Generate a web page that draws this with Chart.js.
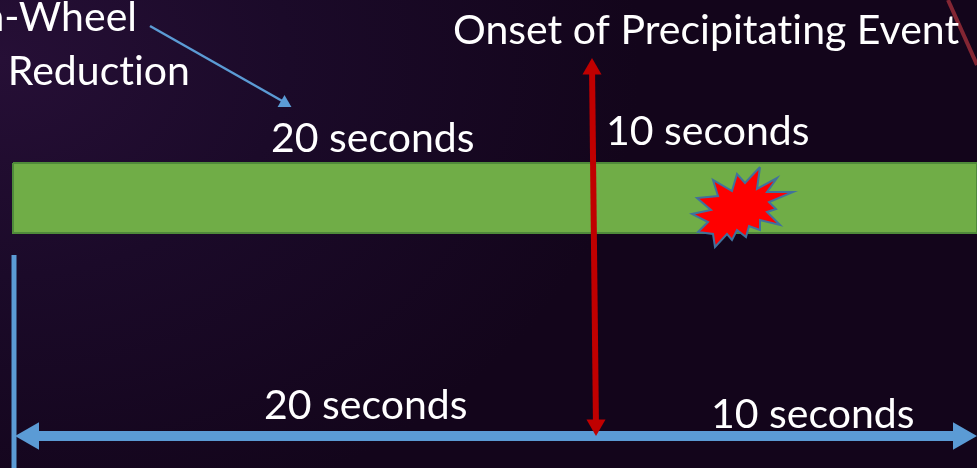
<!DOCTYPE html>
<html><head><meta charset="utf-8">
<style>
html,body{margin:0;padding:0;width:977px;height:468px;overflow:hidden;
background:radial-gradient(ellipse 640px 480px at 0px 60px,#260f36 0%,#1b0a29 45%,#13051b 100%);}
canvas{display:block}
</style>
<script src="https://cdn.jsdelivr.net/npm/chart.js@4"></script>
</head><body><canvas id="c" width="977" height="468"></canvas>
<script>
// Schematic plane: x and y in picture units
const bandX = [13, 977, 977, 13, 13];
const bandY = [163, 163, 233, 233, 163];
const burstX = [760,757,777,767,793,769,776,767,780,760,760,749,746,737,732,727,715,713,698,708,692,711,697,718,713,732,737,745,760];
const burstY = [167,189,178,192,192,202,209,212,225,220,230,226,237,230,240,234,247,234,232,222,214,210,198,196,180,191,174,183,167];
const startTickX = [14, 14];
const startTickY = [255, 468];
const timelineX = [24, 968];
const timelineY = [436, 436];
const timelineHeadX = [31, 961];
const timelineHeadY = [436, 436];
const timelineHeadAngle = [270, 90];
const onsetX = [592, 596];
const onsetY = [66, 428];
const onsetHeadX = [592, 596];
const onsetHeadY = [69, 425];
const onsetHeadAngle = [0, 180];
const pointerX = [150, 284];
const pointerY = [26, 102];
const pointerHeadX = [284.5];
const pointerHeadY = [103];
const edgeLineX = [948, 977];
const edgeLineY = [0, 65];
const labelTexts = ["n-Wheel", "Reduction", "Onset of Precipitating Event", "20 seconds", "10 seconds", "20 seconds", "10 seconds"];
const labelX = [137, 190, 453, 271, 606, 264, 711];
const labelY = [18, 72, 31, 139, 132, 406, 415];
const labelAlign = ["right", "right", "left", "left", "left", "left", "left"];

const pts = (xs, ys) => xs.map((x, i) => ({x, y: ys[i]}));
const line = (xs, ys, color, width, extra = {}) => ({
  type: "line", data: pts(xs, ys), borderColor: color, borderWidth: width,
  pointRadius: 0, tension: 0, fill: false, ...extra
});
const heads = (xs, ys, angles, color, r) => ({
  type: "scatter", data: pts(xs, ys), pointStyle: "triangle",
  pointRadius: r, pointHoverRadius: r, pointRotation: angles,
  backgroundColor: color, borderColor: color, borderWidth: 0
});

const textPlugin = {
  id: "labels",
  afterDatasetsDraw(chart) {
    const {ctx, scales: {x, y}} = chart;
    ctx.save();
    ctx.font = '41px Lato, "Open Sans", sans-serif';
    ctx.letterSpacing = "0.01px";
    ctx.fillStyle = "#ffffff";
    ctx.textBaseline = "middle";
    labelTexts.forEach((t, i) => {
      ctx.textAlign = labelAlign[i];
      ctx.fillText(t, x.getPixelForValue(labelX[i]), y.getPixelForValue(labelY[i]));
    });
    ctx.restore();
  }
};

// Chart.js paints the first dataset on top, so the list runs from front to back.
new Chart(document.getElementById("c"), {
  type: "scatter",
  data: {datasets: [
    heads(onsetHeadX, onsetHeadY, onsetHeadAngle, "#c00000", 11),
    line(onsetX, onsetY, "#c00000", 6),
    heads(pointerHeadX, pointerHeadY, [0], "#5b9bd5", 8),
    line(pointerX, pointerY, "#5b9bd5", 2.5),
    heads(timelineHeadX, timelineHeadY, timelineHeadAngle, "#5b9bd5", 16),
    line(timelineX, timelineY, "#5b9bd5", 10),
    line(startTickX, startTickY, "#5b9bd5", 5),
    line(burstX, burstY, "#41719c", 2, {fill: "shape", backgroundColor: "#ff0000"}),
    line(bandX, bandY, "#4f8a3a", 2, {fill: "shape", backgroundColor: "#70ad47"}),
    line(edgeLineX, edgeLineY, "rgba(170,50,60,0.75)", 4)
  ]},
  options: {
    responsive: false, animation: false, maintainAspectRatio: false,
    layout: {padding: 0, autoPadding: false},
    plugins: {legend: {display: false}, tooltip: {enabled: false}},
    scales: {
      x: {type: "linear", display: false, min: 0, max: 977},
      y: {type: "linear", display: false, min: 0, max: 468, reverse: true}
    }
  },
  plugins: [textPlugin]
});
</script></body></html>
